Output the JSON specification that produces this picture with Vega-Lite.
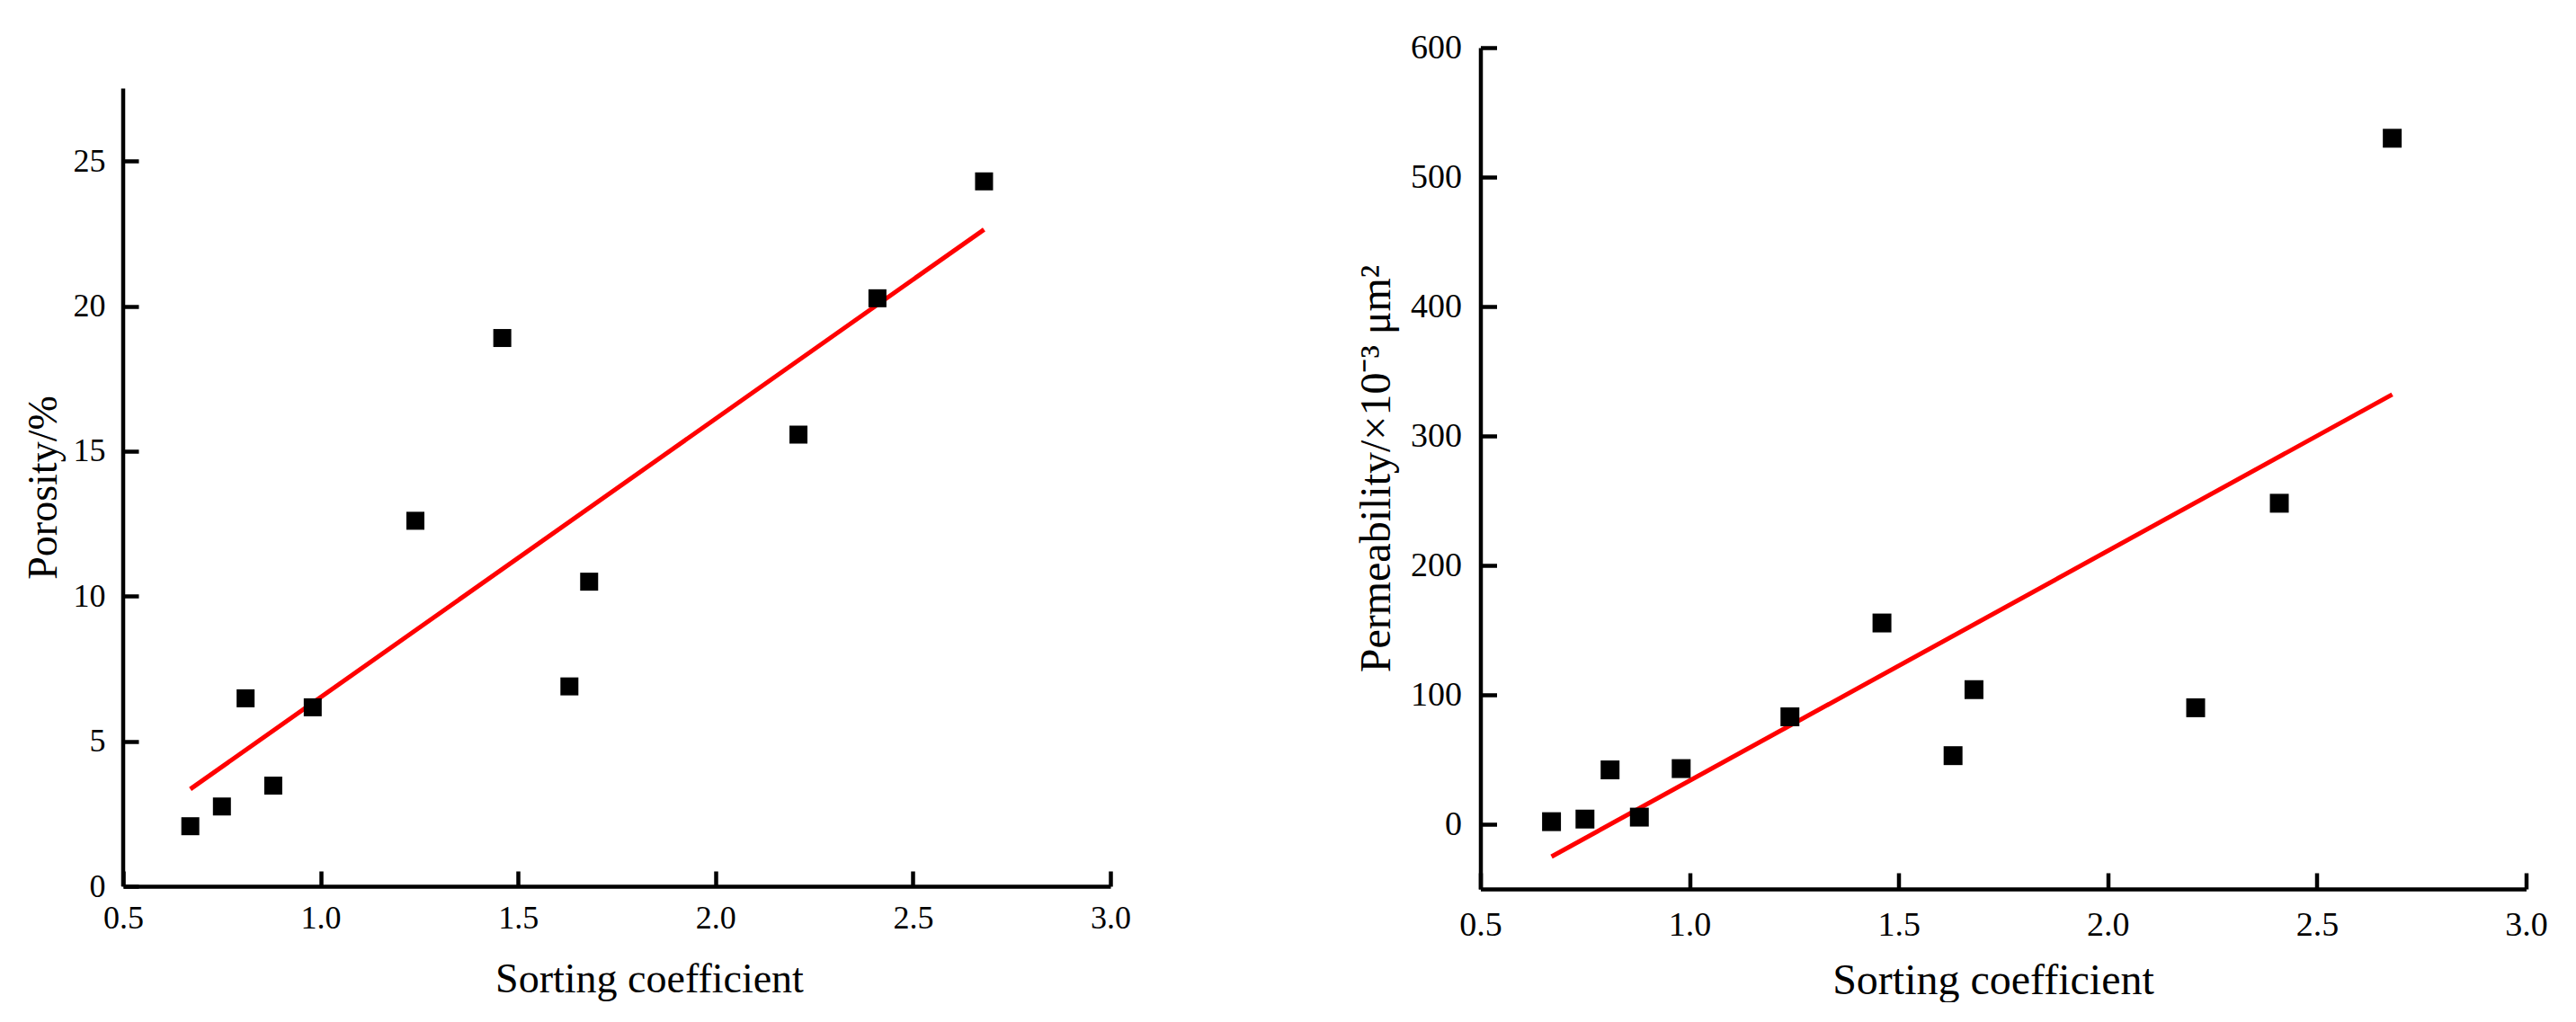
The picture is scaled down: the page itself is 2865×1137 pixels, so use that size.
{
  "$schema": "https://vega.github.io/schema/vega-lite/v6.json",
  "background": "white",
  "padding": {"left": 25, "top": 34, "right": 0, "bottom": 0},
  "bounds": "flush",
  "spacing": 411.5,
  "config": {
    "view": {"stroke": null},
    "font": "Liberation Serif",
    "axis": {
      "grid": false,
      "domainColor": "black",
      "domainWidth": 4.5,
      "tickColor": "black",
      "tickWidth": 4.5,
      "labelColor": "black",
      "titleColor": "black",
      "labelFont": "Liberation Serif",
      "titleFont": "Liberation Serif",
      "titleFontWeight": "normal",
      "labelFlush": false,
      "labelOverlap": false
    }
  },
  "datasets": {
    "samples": [
      {"sorting": 0.67, "porosity": 2.07, "permeability": 2},
      {"sorting": 0.75, "porosity": 2.75, "permeability": 4},
      {"sorting": 0.81, "porosity": 6.48, "permeability": 42},
      {"sorting": 0.88, "porosity": 3.47, "permeability": 5.5},
      {"sorting": 0.98, "porosity": 6.17, "permeability": 43},
      {"sorting": 1.24, "porosity": 12.6, "permeability": 83},
      {"sorting": 1.46, "porosity": 18.9, "permeability": 155.5},
      {"sorting": 1.63, "porosity": 6.89, "permeability": 53},
      {"sorting": 1.68, "porosity": 10.5, "permeability": 104},
      {"sorting": 2.21, "porosity": 15.57, "permeability": 90},
      {"sorting": 2.41, "porosity": 20.27, "permeability": 248},
      {"sorting": 2.68, "porosity": 24.3, "permeability": 530}
    ],
    "porFit": [
      {"sorting": 0.67, "porosity": 3.35},
      {"sorting": 2.68, "porosity": 22.64}
    ],
    "permFit": [
      {"sorting": 0.67, "permeability": -25},
      {"sorting": 2.68, "permeability": 332}
    ]
  },
  "hconcat": [
    {
      "width": 1098,
      "height": 933,
      "layer": [
        {
          "data": {"values": [{}]},
          "mark": {"type": "rule", "color": "black", "strokeWidth": 4.5},
          "encoding": {
            "x": {"datum": 0.5, "type": "quantitative"},
            "y": {"datum": 0, "type": "quantitative"},
            "y2": {"datum": 27.5}
          }
        },
        {
          "data": {"name": "porFit"},
          "mark": {"type": "line", "color": "#ff0000", "strokeWidth": 5},
          "encoding": {
            "x": {"field": "sorting", "type": "quantitative"},
            "y": {"field": "porosity", "type": "quantitative"}
          }
        },
        {
          "data": {"name": "samples"},
          "mark": {"type": "square", "size": 400, "color": "black", "opacity": 1, "filled": true},
          "encoding": {
            "x": {
              "field": "sorting",
              "type": "quantitative",
              "scale": {"domain": [0.5, 3.0], "nice": false, "zero": false},
              "axis": {
                "values": [0.5, 1.0, 1.5, 2.0, 2.5, 3.0],
                "format": ".1f",
                "tickSize": -17,
                "labelPadding": 35,
                "labelFontSize": 36,
                "title": "Sorting coefficient",
                "titleFontSize": 46,
                "titleX": 585,
                "titleY": 117,
                "titleBaseline": "alphabetic",
                "titleAlign": "center"
              }
            },
            "y": {
              "field": "porosity",
              "type": "quantitative",
              "scale": {"domain": [0, 28.91], "nice": false, "zero": false},
              "axis": {
                "domain": false,
                "values": [0, 5, 10, 15, 20, 25],
                "tickSize": -17,
                "labelPadding": 37,
                "labelFontSize": 36,
                "title": "Porosity/%",
                "titleFontSize": 46,
                "titleX": -74.5,
                "titleY": 489,
                "titleAngle": -90,
                "titleBaseline": "alphabetic",
                "titleAlign": "center"
              }
            }
          }
        }
      ]
    },
    {
      "width": 1163,
      "height": 936,
      "layer": [
        {
          "data": {"name": "permFit"},
          "mark": {"type": "line", "color": "#ff0000", "strokeWidth": 5},
          "encoding": {
            "x": {"field": "sorting", "type": "quantitative"},
            "y": {"field": "permeability", "type": "quantitative"}
          }
        },
        {
          "data": {"name": "samples"},
          "mark": {"type": "square", "size": 440, "color": "black", "opacity": 1, "filled": true},
          "encoding": {
            "x": {
              "field": "sorting",
              "type": "quantitative",
              "scale": {"domain": [0.5, 3.0], "nice": false, "zero": false},
              "axis": {
                "values": [0.5, 1.0, 1.5, 2.0, 2.5, 3.0],
                "format": ".1f",
                "tickSize": -18,
                "labelPadding": 39,
                "labelFontSize": 38,
                "title": "Sorting coefficient",
                "titleFontSize": 48,
                "titleX": 570,
                "titleY": 116,
                "titleBaseline": "alphabetic",
                "titleAlign": "center"
              }
            },
            "y": {
              "field": "permeability",
              "type": "quantitative",
              "scale": {"domain": [-50, 600], "nice": false, "zero": false},
              "axis": {
                "values": [0, 100, 200, 300, 400, 500, 600],
                "tickSize": -18,
                "labelPadding": 39,
                "labelFontSize": 38,
                "title": "Permeability/×10⁻³ μm²",
                "titleFontSize": 48,
                "titleX": -101,
                "titleY": 468,
                "titleAngle": -90,
                "titleBaseline": "alphabetic",
                "titleAlign": "center"
              }
            }
          }
        }
      ]
    }
  ]
}
